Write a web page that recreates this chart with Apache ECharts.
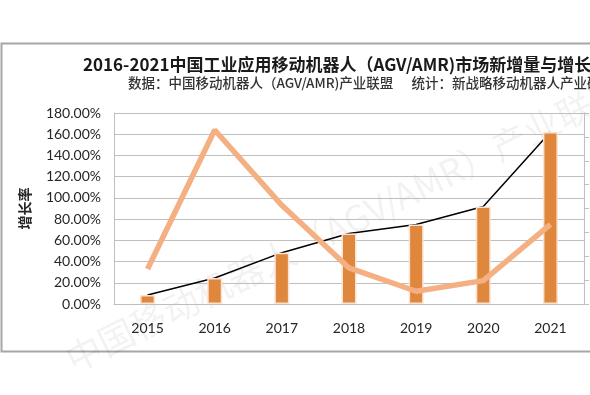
<!DOCTYPE html>
<html><head><meta charset="utf-8">
<script src="https://cdn.jsdelivr.net/npm/echarts@6/dist/echarts.min.js"></script>
<style>html,body{margin:0;padding:0;background:#fff}#c{width:590px;height:395px}</style>
</head><body><div id="c"></div>
<script>
const years = ['2015','2016','2017','2018','2019','2020','2021'];
const newUnits = [0.38, 1.09, 2.15, 2.95, 3.33, 4.08, 7.2];
const growthRate = [0.33, 1.64, 0.93, 0.34, 0.12, 0.22, 0.75];
const title = '2016-2021中国工业应用移动机器人（AGV/AMR)市场新增量与增长率';
const subtitle = '数据：中国移动机器人（AGV/AMR)产业联盟      统计：新战略移动机器人产业研究所';
const yName = '增长率';
const watermark = '中国移动机器人（AGV/AMR）产业联盟';

const chart = echarts.init(document.getElementById('c'));
const numFont = 'Lato, "Noto Sans", sans-serif';
const cjkFont = '"Noto Sans CJK SC", sans-serif';
chart.setOption({
  animation: false,
  graphic: [
    {type:'rect', shape:{x:1.5,y:43.5,width:600,height:308}, style:{fill:'none', stroke:'#A6A6A6', lineWidth:2}, z:0},
    {type:'text', left:83, top:56, style:{text:title, font:'bold 17px ' + cjkFont, fill:'#1a1a1a'}},
    {type:'text', left:128, top:76, style:{text:subtitle, font:'500 13.5px ' + cjkFont, fill:'#333333'}},
    {type:'text', x:60, y:345, rotation:0.46, style:{text:watermark, font:'36px ' + cjkFont, fill:'rgba(0,0,0,0.05)'}, z:0}
  ],
  grid: {left:114, right:6, top:113, bottom:91},
  xAxis: {
    type:'category', data: years,
    axisLine:{lineStyle:{color:'#BFBFBF'}}, axisTick:{show:false},
    axisLabel:{color:'#262626', fontSize:14, fontFamily:numFont, margin:17}
  },
  yAxis: [
    {type:'value', min:0, max:1.8, interval:0.2, name:yName, nameLocation:'middle', nameGap:82,
     nameMoveOverlap:false,
     nameTextStyle:{fontFamily:cjkFont, fontWeight:'bold', fontSize:14, color:'#262626'},
     nameRotate:90,
     axisLine:{show:true, lineStyle:{color:'#BFBFBF'}},
     axisLabel:{color:'#262626', fontSize:14, fontFamily:numFont, margin:13, formatter:v=>(v*100).toFixed(2)+'%'},
     splitLine:{lineStyle:{color:'#BFBFBF'}}},
    {type:'value', min:0, max:8, interval:1, position:'right',
     axisLine:{show:true, lineStyle:{color:'#BFBFBF'}},
     axisTick:{show:true, length:5, lineStyle:{color:'#BFBFBF'}},
     axisLabel:{show:false}, splitLine:{show:false}}
  ],
  series: [
    {type:'line', yAxisIndex:1, data:newUnits, symbol:'none', z:1,
     lineStyle:{color:'#000', width:1.5}},
    {type:'bar', yAxisIndex:1, data:newUnits, barWidth:15, z:2,
     itemStyle:{color:'#DF873C', borderColor:'#FBE3D2', borderWidth:1.5}},
    {type:'line', yAxisIndex:0, data:growthRate, symbol:'none', z:3,
     lineStyle:{color:'#F4B083', width:5.5}}
  ]
});
</script></body></html>
